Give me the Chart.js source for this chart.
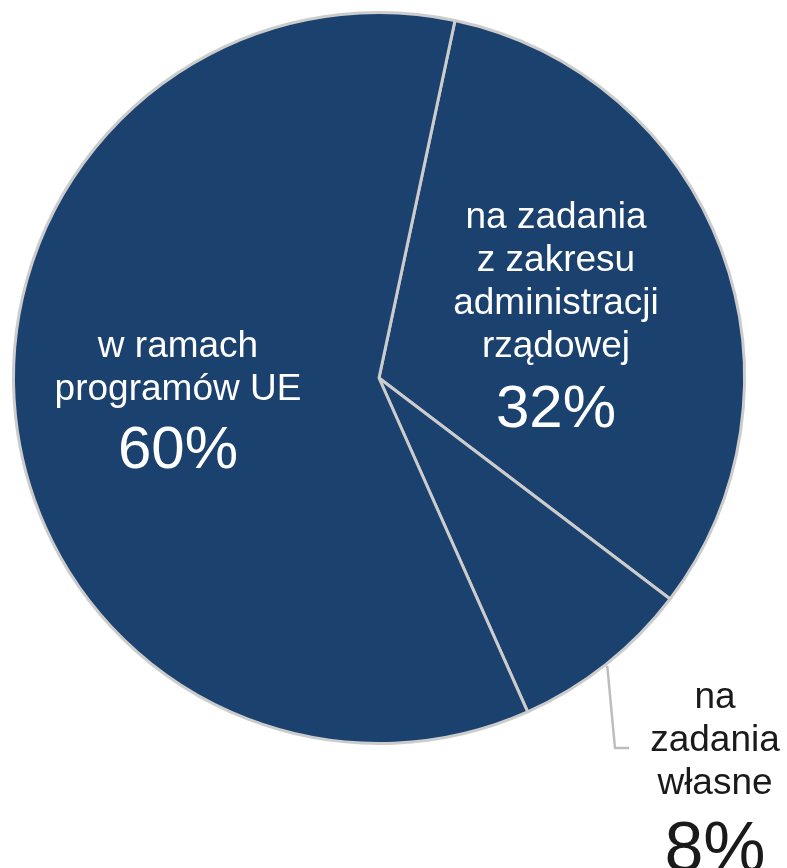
<!DOCTYPE html>
<html>
<head>
<meta charset="utf-8">
<script src="https://cdn.jsdelivr.net/npm/chart.js@4"></script>
<style>
  html, body { margin: 0; padding: 0; background: #fff; }
  #wrap { width: 787px; height: 868px; }
</style>
</head>
<body>
<div id="wrap"><canvas id="chartWydatki" width="787" height="868"></canvas></div>
<script>
const kategorie = [
  ["na zadania", "z zakresu", "administracji", "rządowej"],
  ["na", "zadania", "własne"],
  ["w ramach", "programów UE"]
];
const udzialy = [32, 8, 60];

// pozycje opisów (środek tekstu, linia bazowa pierwszego wiersza)
const opisy = [
  { x: 556, y: 228, kolor: "#ffffff", pct: 60, odstep: 70 },
  { x: 715, y: 708, kolor: "#1a1a1a", pct: 70, odstep: 77 },
  { x: 178, y: 357, kolor: "#ffffff", pct: 60, odstep: 68 }
];

const etykiety = {
  id: "etykiety",
  afterDatasetsDraw(chart) {
    const ctx = chart.ctx;
    const luki = chart.getDatasetMeta(0).data;

    // linia odniesienia do małego wycinka
    const a = luki[1];
    const kat = (a.startAngle + a.endAngle) / 2;
    ctx.save();
    ctx.strokeStyle = "#bdbdbd";
    ctx.lineWidth = 2.5;
    ctx.beginPath();
    ctx.moveTo(a.x + Math.cos(kat) * (a.outerRadius + 2), a.y + Math.sin(kat) * (a.outerRadius + 2));
    ctx.lineTo(615, 748);
    ctx.lineTo(629, 748);
    ctx.stroke();
    ctx.restore();

    ctx.save();
    ctx.textAlign = "center";
    ctx.textBaseline = "alphabetic";
    kategorie.forEach((linie, i) => {
      const o = opisy[i];
      ctx.fillStyle = o.kolor;
      ctx.font = "37px 'Liberation Sans', Arial, sans-serif";
      linie.forEach((t, j) => ctx.fillText(t, o.x, o.y + j * 43));
      ctx.font = o.pct + "px 'Liberation Sans', Arial, sans-serif";
      ctx.fillText(udzialy[i] + "%", o.x, o.y + (linie.length - 1) * 43 + o.odstep);
    });
    ctx.restore();
  }
};

new Chart(document.getElementById("chartWydatki"), {
  type: "pie",
  data: {
    labels: kategorie.map(l => l.join(" ")),
    datasets: [{
      data: udzialy,
      backgroundColor: "#1b416f",
      borderColor: "#cccccc",
      borderWidth: 3
    }]
  },
  options: {
    responsive: false,
    animation: false,
    rotation: 12,
    layout: { padding: { left: 12, top: 11, right: 41, bottom: 123 } },
    plugins: { legend: { display: false }, tooltip: { enabled: false } }
  },
  plugins: [etykiety]
});
</script>
</body>
</html>
